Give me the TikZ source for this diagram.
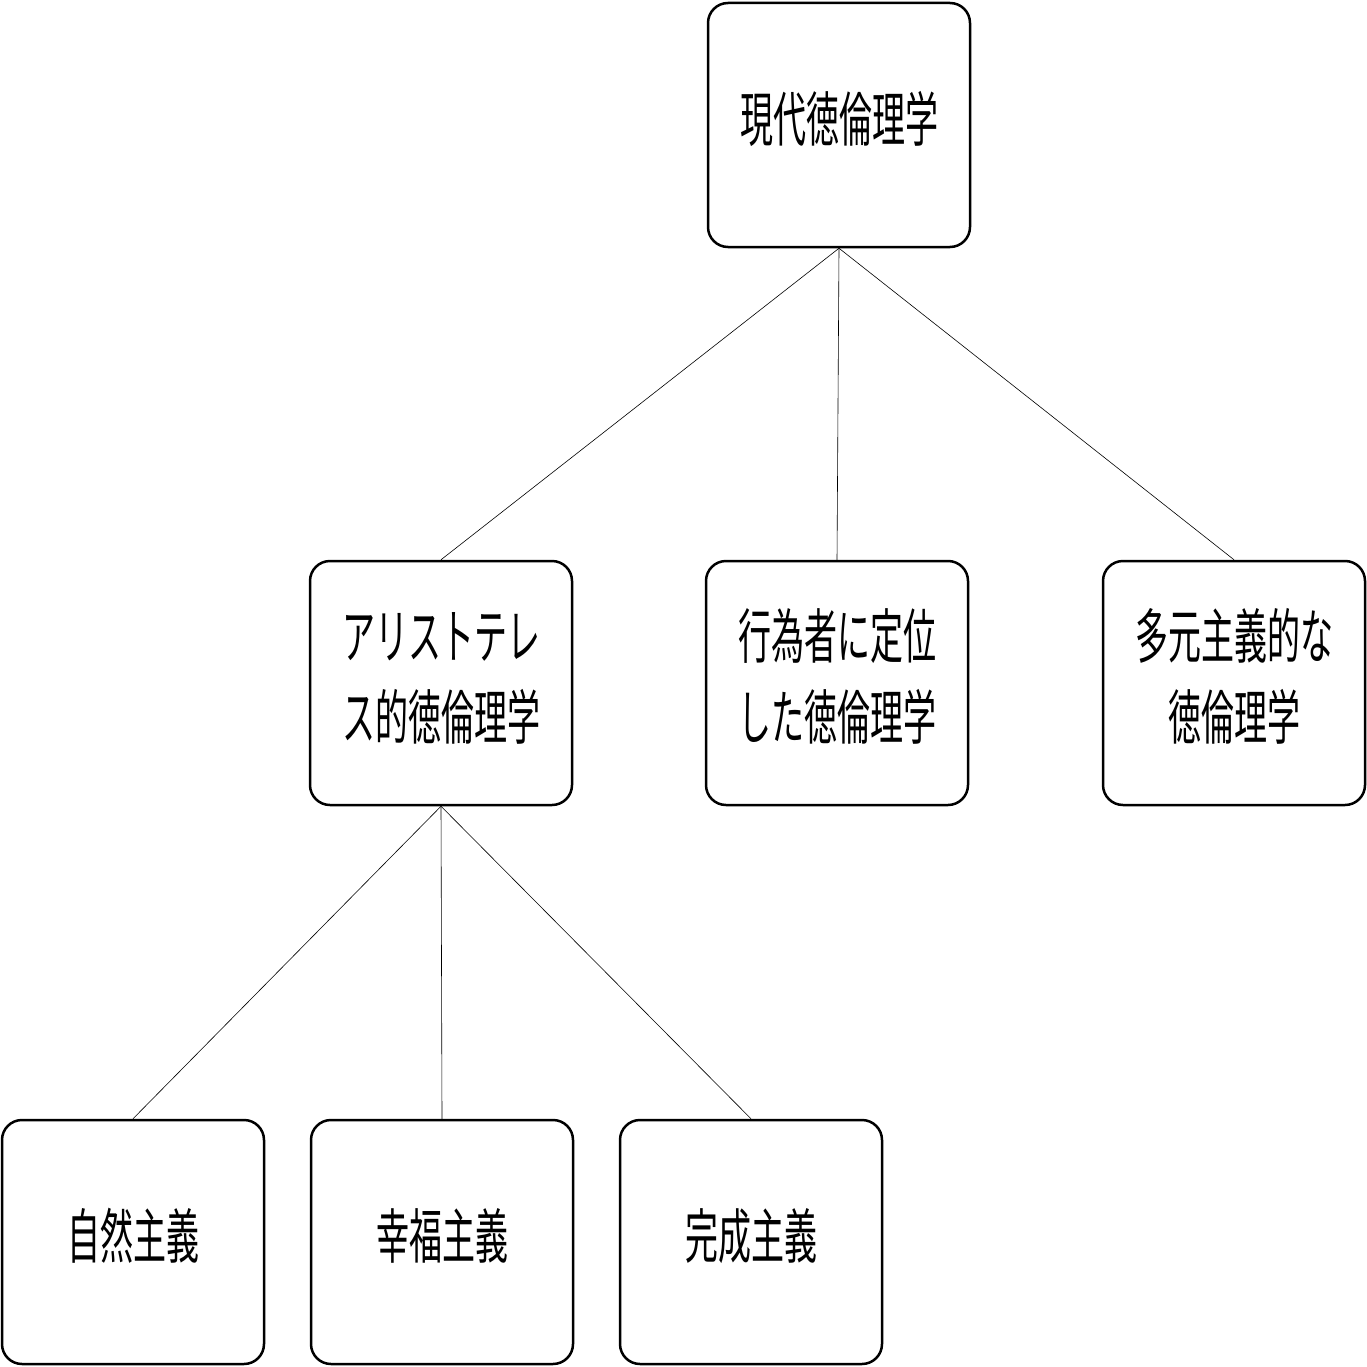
\documentclass[tikz,border=0pt]{standalone}
\usepackage{fontspec}
\newfontfamily\cjk{Noto Sans CJK JP}
\usepackage{graphicx}
\newcommand{\tallt}[1]{\scalebox{1}[1.8]{\fontsize{33pt}{45pt}\selectfont\begin{tabular}{@{}c@{}}#1\end{tabular}}}
\begin{document}
\begin{tikzpicture}[x=1pt,y=-1pt,
  kasten/.style={
  % The shape:
  rectangle, rounded corners=20pt,
  % The size:
  minimum width=262pt, minimum height=244pt,
  % The border:
  line width=2.5pt, draw=black,
  % Font
  font=\cjk, inner sep=0pt
  },
  verb/.style={line width=0.6pt}]
  \useasboundingbox (0,0) rectangle (1367,1367);
  \node (root) [kasten] at (839,125) {\tallt{現代徳倫理学}};
  \node (ari) [kasten] at (441,683) {\tallt{アリストテレ\\ス的徳倫理学}};
  \node (agent) [kasten] at (837,683) {\tallt{行為者に定位\\した徳倫理学}};
  \node (plural) [kasten] at (1234,683) {\tallt{多元主義的な\\徳倫理学}};
  \node (nat) [kasten] at (133,1242) {\tallt{自然主義}};
  \node (eud) [kasten] at (442,1242) {\tallt{幸福主義}};
  \node (perf) [kasten] at (751,1242) {\tallt{完成主義}};

  \draw[verb] (root.south) -- (ari.north);
  \draw[verb] (root.south) -- (agent.north);
  \draw[verb] (root.south) -- (plural.north);
  \draw[verb] (ari.south) -- (nat.north);
  \draw[verb] (ari.south) -- (eud.north);
  \draw[verb] (ari.south) -- (perf.north);
\end{tikzpicture}
\end{document}
